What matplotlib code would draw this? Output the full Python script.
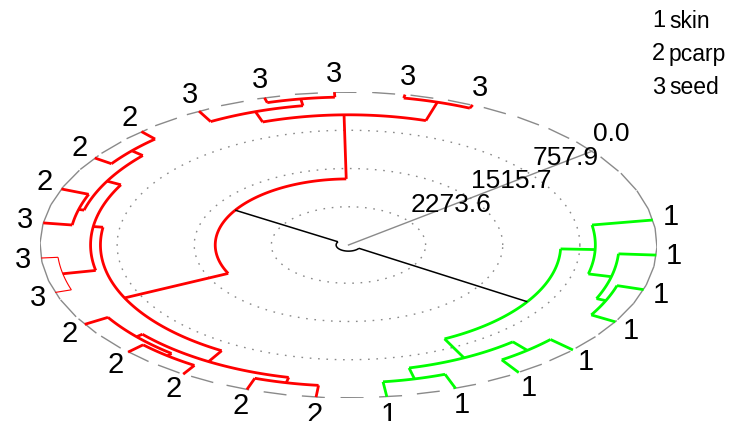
import numpy as np
import matplotlib
matplotlib.use("Agg")
import matplotlib.pyplot as plt
from matplotlib.collections import LineCollection

plt.rcParams["font.family"] = ["Liberation Sans", "DejaVu Sans"]

# ---- data -------------------------------------------------------------
# tissue group of every leaf, in dendrogram order (1 = skin, 2 = pcarp, 3 = seed)
leaf_groups = [1, 1, 1, 1, 1, 1, 1, 1,
               2, 2, 2, 2, 2, 3, 3, 3, 2, 2, 2, 3, 3, 3, 3, 3]
group_ids = [1, 2, 3]
group_names = ["skin", "pcarp", "seed"]

# hclust-style merge table: negative = leaf (1-based), positive = earlier merge
merge_a = [-23, -21, -14, -18, -11, -9, -20, -13, -3, -16, -7, -5,
           10, 8, -2, 7, 3, 12, 14, -1, 20, 19, 22]
merge_b = [-24, -22, -15, -19, -12, -10, 2, 5, -4, -17, -8, -6,
           4, 6, 9, 1, 13, 11, 17, 15, 18, 16, 21]
merge_height = [70, 100, 167, 200, 206, 235, 236, 267, 273, 288, 300, 303,
                343, 343, 373, 452, 497, 524, 594, 606, 946, 1722, 2910]

# radial axis ticks (height)
axis_ticks = [0.0, 757.9, 1515.7, 2273.6]
height_max = 3031.5

# ---- layout -----------------------------------------------------------
W, H = 732, 421
fig = plt.figure(figsize=(W / 100, H / 100), dpi=100)
cx, cy, rx, ry = 348.5, 245.0, 308.5, 153.0
ax = fig.add_axes([(cx - rx) / W, (H - cy - ry) / H, 2 * rx / W, 2 * ry / H])
ax.set_xlim(-1, 1)
ax.set_ylim(-1, 1)
ax.axis("off")

n_leaf = len(leaf_groups)
leaf_theta = np.deg2rad(9.4 - 13.18 * np.arange(n_leaf))


def radius(h):
    return 1.0 - h / height_max


def pol(r, t):
    return r * np.cos(t), r * np.sin(t)


# node positions and leaf membership
node_theta, node_r, node_leaves = [], [], []


def child(c):
    if c < 0:
        return leaf_theta[-c - 1], 1.0, {-c - 1}
    return node_theta[c - 1], node_r[c - 1], node_leaves[c - 1]


for a, b, h in zip(merge_a, merge_b, merge_height):
    ta, ra, la = child(a)
    tb, rb, lb = child(b)
    node_theta.append((ta + tb) / 2)
    node_r.append(radius(h))
    node_leaves.append(la | lb)

green_set = set(range(8))
RED, GREEN = "#ff0000", "#00ff00"
thin_nodes = {3}

for k, (a, b) in enumerate(zip(merge_a, merge_b)):
    leaves = node_leaves[k]
    if k == len(merge_a) - 1:
        col, lw = "black", 1.1
    elif leaves <= green_set:
        col, lw = GREEN, 2.0
    else:
        col, lw = RED, 2.0
    if (k + 1) in thin_nodes:
        lw = 0.8
    r = node_r[k]
    ta, ra, _ = child(a)
    tb, rb, _ = child(b)
    tt = np.linspace(ta, tb, 120)
    ax.plot(*pol(r, tt), color=col, lw=lw, solid_capstyle="butt", zorder=3)
    for t, rc in ((ta, ra), (tb, rb)):
        x0, y0 = pol(rc, t)
        x1, y1 = pol(r, t)
        ax.plot([x0, x1], [y0, y1], color=col, lw=lw, solid_capstyle="butt", zorder=3)

# ---- circles ----------------------------------------------------------
GREY = "#8a8a8a"
tt = np.linspace(0, 2 * np.pi, 400)
for v in axis_ticks[1:]:
    r = radius(v)
    ax.plot(r * np.cos(tt), r * np.sin(tt), color=GREY, lw=1.0,
            linestyle=(0, (1.2, 4.8)), zorder=1)

# outer ring: 50-gon, dash restarting on every edge
verts = np.deg2rad(100 - 7.2 * np.arange(51))
segs = []
for t0, t1 in zip(verts[:-1], verts[1:]):
    p0 = np.array([np.cos(t0), np.sin(t0)])
    p1 = np.array([np.cos(t1), np.sin(t1)])
    d = p1 - p0
    L = np.hypot(d[0] * rx, d[1] * ry)
    f = min(1.0, 23.0 / L)
    segs.append([p0, p0 + f * d])
ax.add_collection(LineCollection(segs, colors=GREY, linewidths=1.0, zorder=1))

# radial axis along the gap between first and last leaf
gap = (leaf_theta[0] + leaf_theta[-1] + 2 * np.pi) / 2
ax.plot([0, np.cos(gap)], [0, np.sin(gap)], color=GREY, lw=1.0, zorder=2)
for v in axis_ticks:
    r = radius(v)
    ax.annotate(f"{v:.1f}", xy=pol(r, gap), xytext=(1, 5), textcoords="offset pixels",
                ha="left", va="bottom", fontsize=19, zorder=4)

# ---- leaf labels --------------------------------------------------------
for t, g in zip(leaf_theta, leaf_groups):
    d = 18
    ax.annotate(str(g), xy=pol(1.0, t), xytext=(d * np.cos(t), d * np.sin(t)),
                textcoords="offset pixels", ha="center", va="center",
                fontsize=21, annotation_clip=False)

# ---- legend -------------------------------------------------------------
for i, (gid, name) in enumerate(zip(group_ids, group_names)):
    y = 1 - (21 + 33.5 * i) / H
    fig.text(665 / W, y, str(gid), ha="right", va="center", fontsize=17)
    fig.text(669 / W, y, name, ha="left", va="center", fontsize=16.5)

fig.savefig("out.png", dpi=100)
